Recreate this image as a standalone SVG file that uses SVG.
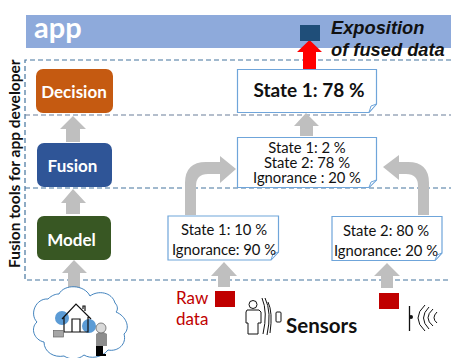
<svg xmlns="http://www.w3.org/2000/svg" width="451" height="358" viewBox="0 0 451 358">
<style>
text{font-family:Lato,"Liberation Sans",sans-serif}
.mod{font-size:17px;font-weight:700;fill:#fff;text-anchor:middle}
.note{fill:#fff;stroke:#6fa5da;stroke-width:1.2}
.fold{fill:#fff;stroke:#6fa5da;stroke-width:1}
.nt{font-size:14.8px;fill:#111;text-anchor:middle}
.dash{fill:none;stroke:#44749d;stroke-width:1.2;stroke-dasharray:5 3}
.gray{fill:#bfbfbf}
.ln{fill:none;stroke:#111;stroke-width:1}
.ex{font-size:18.300px;font-weight:700;font-style:italic;fill:#111}
</style>
<rect width="451" height="358" fill="#fff"/>
<g id="app-bar"><rect x="26" y="15" width="425" height="33" fill="#8eaadb"/><text x="34" y="38" font-size="29" font-weight="700" fill="#fff">app</text></g>
<g id="frame">
<path class="dash" d="M451 60H25V280H451"/>
<path class="dash" d="M25 115H451" style="stroke:#6a7f9a"/>
<path class="dash" d="M25 188H451"/>
<text transform="translate(20 268) rotate(-90)" font-size="15.500" font-weight="700" fill="#111">Fusion tools for app developer</text>
</g>
<g id="connectors">
<path class="gray" d="M73 116L86 129H80V142H66V129H60Z"/>
<path class="gray" d="M73 189L86 203H80V214H66V203H61Z"/>
<path class="gray" d="M74 260L87 273H80V293H68V273H62Z"/>
<path class="gray" d="M306 113L319 126H313V136H300V126H294Z"/>
<path class="gray" d="M185 215V183Q185 162 206 162H220V156L236 169L220 183V174H208Q196 174 196 186V215Z"/>
<path class="gray" d="M429 215V183Q429 162 408 162H399V155L383 167L399 180V174H406Q418 174 418 186V215Z"/>
<path class="gray" d="M224 262L237 276H230V287H218V276H211Z"/>
<path class="gray" d="M387 263L400 276H393V288H381V276H374Z"/>
<path d="M309.500 40L322 52H316V69H303V52H297Z" fill="#f00"/>
</g>
<g id="exposition"><rect x="300" y="25" width="20" height="16" fill="#1f4e79"/>
<text class="ex" x="331" y="34" style="font-family:'Liberation Sans'">Exposition</text>
<text class="ex" x="331" y="56" style="font-family:'Liberation Sans'">of fused data</text></g>
<g id="decision"><rect x="36" y="69" width="77" height="44" rx="7" fill="#c55a11"/><text class="mod" x="74" y="98">Decision</text></g>
<g id="fusion"><rect x="37" y="143" width="75" height="44" rx="7" fill="#2f5597"/><text class="mod" x="72.500" y="172">Fusion</text></g>
<g id="model"><rect x="37" y="216" width="74" height="44" rx="7" fill="#385723"/><text class="mod" x="71.500" y="246">Model</text></g>
<g id="note-result"><path class="note" d="M237.500 69.500H376.500V104L369 112.500H237.500Z"/><path class="fold" d="M369 112.500L371 106L376.500 104Z"/><text x="309" y="97" font-size="19" font-weight="700" fill="#111" text-anchor="middle">State 1: 78 %</text></g>
<g id="note-fused"><path class="note" d="M237.500 137.500H376.500V180L369 187.500H237.500Z"/><path class="fold" d="M369 187.500L371 182L376.500 180Z"/>
<text class="nt" x="307" y="153">State 1: 2 %</text><text class="nt" x="307" y="168">State 2: 78 %</text><text class="nt" x="307" y="183">Ignorance : 20 %</text></g>
<g id="note-state1"><path class="note" d="M168 216H278.500V252L271 260H168Z"/><path class="fold" d="M271 260L273 254L278.500 252Z"/>
<text class="nt" x="224" y="235">State 1: 10 %</text><text class="nt" x="224" y="255">Ignorance: 90 %</text></g>
<g id="note-state2"><path class="note" d="M332 216.500H442V253L435 260.500H332Z"/><path class="fold" d="M435 260.500L437 255L442 253Z"/>
<text class="nt" x="386" y="236">State 2: 80 %</text><text class="nt" x="386" y="256">Ignorance: 20 %</text></g>
<g id="raw-data"><rect x="215" y="291" width="20" height="16" fill="#c00000"/><rect x="379" y="293" width="20" height="16" fill="#c00000"/>
<text x="176" y="304" font-size="17" fill="#c00000">Raw</text><text x="176" y="325" font-size="17" fill="#c00000">data</text></g>
<g id="home">
<path d="M59 294C64 284 84 284 90 296C98 290 112 292 115 303C118 306 118 310 116 312C126 316 131 328 124 334C127 344 118 352 108 350C102 358 90 359 84 355C78 360 70 360 64 356C54 358 44 352 44 342C34 340 30 328 37 322C29 314 36 298 48 299C52 295 56 294 59 294Z" fill="#fff" stroke="#2e75b6" stroke-width="0.9"/>
<circle cx="62" cy="318" r="7" fill="#5b9bd5"/><circle cx="89" cy="326" r="7" fill="#5b9bd5"/>
<path d="M62 319L76 304L91 319M64 317V332H88V317M72 332V319H80V332M83 309V306H85V311" fill="none" stroke="#111" stroke-width="1.2"/>
<rect x="53.500" y="330.500" width="10" height="6.500" fill="#a6a6a6" stroke="#666" stroke-width=".7"/>
<path d="M96 334Q101 329 107 334V346H96Z" fill="#8c8c8c"/><circle cx="101" cy="328" r="5" fill="#d9d9d9" stroke="#666" stroke-width=".8"/>
<path d="M96 346H103V354H106V356H96Z" fill="#000"/>
</g>
<g id="sensors">
<circle cx="253" cy="304.500" r="4" class="ln"/>
<path class="ln" d="M247 310H259L261 312V323H258V334H248V323H246V312Z"/>
<path class="ln" d="M262 298Q268 312 263 334M265 298Q272 312 267 335M268 302Q273 312 270 333"/>
<rect x="276" y="312" width="5" height="10" rx="1" class="ln"/>
<text x="286" y="333" font-size="20.500" font-weight="700" fill="#111">Sensors</text>
<path d="M409.500 306V331" stroke="#111" stroke-width="1.300"/><circle cx="411" cy="317" r="2" fill="#111"/>
<path class="ln" d="M425 305Q411 318 425 331M429 307Q418 318 429 329M433 309Q423 318 433 326M437 312Q431 318 437 323"/>
</g>
</svg>
